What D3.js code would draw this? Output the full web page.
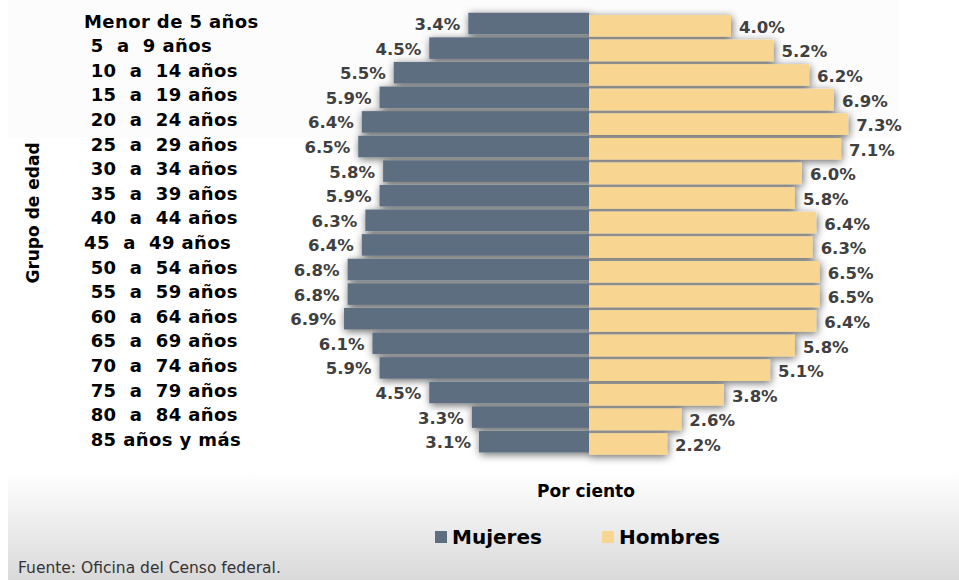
<!DOCTYPE html>
<html>
<head>
<meta charset="utf-8">
<script src="https://d3js.org/d3.v7.min.js"></script>
<style>
body { margin: 0; background: #fff; }
svg { display: block; font-family: "DejaVu Sans", sans-serif; }
text { white-space: pre; }
.cat { font-weight: bold; font-size: 18px; fill: #000; letter-spacing: 0.4px; }
.val { font-weight: bold; font-size: 16.5px; fill: #404040; }
.ttl { font-weight: bold; font-size: 17px; fill: #000; }
.leg { font-weight: bold; font-size: 20px; fill: #000; }
.src { font-size: 15.5px; fill: #333; }
</style>
</head>
<body>
<div id="chart"></div>
<script>

var categories = ["Menor de 5 años", " 5  a  9 años", " 10  a  14 años", " 15  a  19 años",
  " 20  a  24 años", " 25  a  29 años", " 30  a  34 años", " 35  a  39 años", " 40  a  44 años",
  "45  a  49 años", " 50  a  54 años", " 55  a  59 años", " 60  a  64 años", " 65  a  69 años",
  " 70  a  74 años", " 75  a  79 años", " 80  a  84 años", " 85 años y más"];
var mujeres = [3.4, 4.5, 5.5, 5.9, 6.4, 6.5, 5.8, 5.9, 6.3, 6.4, 6.8, 6.8, 6.9, 6.1, 5.9, 4.5, 3.3, 3.1];
var hombres = [4.0, 5.2, 6.2, 6.9, 7.3, 7.1, 6.0, 5.8, 6.4, 6.3, 6.5, 6.5, 6.4, 5.8, 5.1, 3.8, 2.6, 2.2];
var series = ["Mujeres", "Hombres"];
var colors = ["#5d6e80", "#f8d591"];

var width = 959, height = 580;
var center = 589;

var svg = d3.select("#chart").append("svg")
  .attr("width", width).attr("height", height);

var defs = svg.append("defs");

// bottom grey fade behind the axis title and legend
var grad = defs.append("linearGradient").attr("id", "fade")
  .attr("x1", 0).attr("y1", 0).attr("x2", 0).attr("y2", 1);
grad.append("stop").attr("offset", "0%").attr("stop-color", "#ffffff");
grad.append("stop").attr("offset", "100%").attr("stop-color", "#d9d9d9");

// soft shadow under the bars
var shadow = defs.append("filter").attr("id", "shadow")
  .attr("x", "-20%").attr("y", "-10%").attr("width", "140%").attr("height", "120%");
shadow.append("feGaussianBlur").attr("in", "SourceAlpha").attr("stdDeviation", 4.5).attr("result", "blur");
shadow.append("feOffset").attr("in", "blur").attr("dx", 1).attr("dy", 2).attr("result", "off");
shadow.append("feComponentTransfer").attr("in", "off").attr("result", "soft")
  .append("feFuncA").attr("type", "linear").attr("slope", 0.6);
var merge = shadow.append("feMerge");
merge.append("feMergeNode").attr("in", "soft");
merge.append("feMergeNode").attr("in", "SourceGraphic");

svg.append("rect").attr("x", 8).attr("y", 0).attr("width", 890).attr("height", 138).attr("fill", "#fcfcfc");
svg.append("rect").attr("x", 8).attr("y", 472).attr("width", width - 8).attr("height", height - 472)
  .attr("fill", "url(#fade)");

var x = d3.scaleLinear().domain([0, 8]).range([0, 8 * 35.5]);
var y = d3.scaleBand().domain(categories).range([11.2, 11.2 + 18 * 24.6])
  .paddingInner(0.125).paddingOuter(0.0625);
var shift = 2.3; // Hombres bars sit a little lower

var rows = categories.map(function (c, i) {
  return { cat: c, m: mujeres[i], h: hombres[i] };
});

var bars = svg.append("g").attr("filter", "url(#shadow)");

bars.selectAll("rect.m").data(rows).enter().append("rect")
  .attr("class", "m")
  .attr("x", function (d) { return center - x(d.m); })
  .attr("y", function (d) { return y(d.cat); })
  .attr("width", function (d) { return x(d.m); })
  .attr("height", y.bandwidth())
  .attr("fill", colors[0]);

bars.selectAll("rect.h").data(rows).enter().append("rect")
  .attr("class", "h")
  .attr("x", center)
  .attr("y", function (d) { return y(d.cat) + shift; })
  .attr("width", function (d) { return x(d.h); })
  .attr("height", y.bandwidth())
  .attr("fill", colors[1]);

var fmt = function (v) { return v.toFixed(1) + "%"; };

svg.selectAll("text.vm").data(rows).enter().append("text")
  .attr("class", "val").attr("text-anchor", "end")
  .attr("x", function (d) { return center - x(d.m) - 8; })
  .attr("y", function (d) { return y(d.cat) + y.bandwidth() / 2 + 6.5; })
  .text(function (d) { return fmt(d.m); });

svg.selectAll("text.vh").data(rows).enter().append("text")
  .attr("class", "val")
  .attr("x", function (d) { return center + x(d.h) + 8; })
  .attr("y", function (d) { return y(d.cat) + shift + y.bandwidth() / 2 + 7; })
  .text(function (d) { return fmt(d.h); });

svg.selectAll("text.cat").data(rows).enter().append("text")
  .attr("class", "cat")
  .attr("x", 84)
  .attr("y", function (d) { return y(d.cat) + y.bandwidth() / 2 + 4; })
  .text(function (d) { return d.cat; });

svg.append("text").attr("class", "ttl").attr("text-anchor", "middle")
  .attr("transform", "translate(39,213) rotate(-90)")
  .text("Grupo de edad");

svg.append("text").attr("class", "ttl").attr("text-anchor", "middle")
  .attr("x", 586).attr("y", 497).text("Por ciento");

// legend
var legX = [435, 602];
var leg = svg.selectAll("g.leg").data(series).enter().append("g")
  .attr("transform", function (d, i) { return "translate(" + legX[i] + ",531)"; });
leg.append("rect").attr("width", 12).attr("height", 12)
  .attr("fill", function (d, i) { return colors[i]; });
leg.append("text").attr("class", "leg").attr("x", 17).attr("y", 13).text(function (d) { return d; });

svg.append("text").attr("class", "src").attr("x", 18).attr("y", 573)
  .text("Fuente: Oficina del Censo federal.");

</script>
</body>
</html>
